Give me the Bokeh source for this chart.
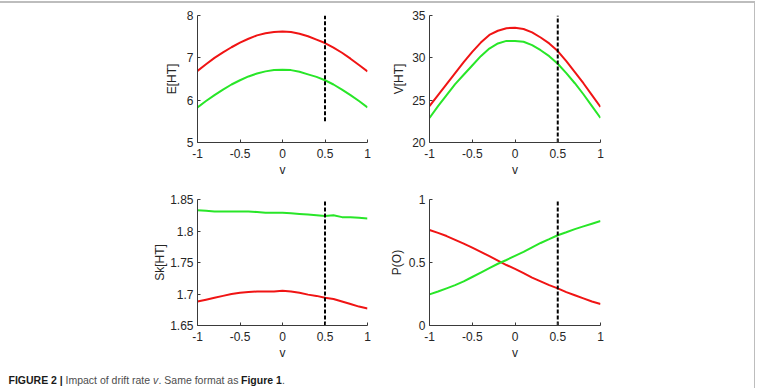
from bokeh.plotting import figure
from bokeh.layouts import row, column
from bokeh.models import Range1d, FixedTicker, Spacer
from bokeh.core.properties import value
from bokeh.embed import file_html
from bokeh.resources import INLINE

# drift rate grid
drift = [-1.0, -0.9, -0.8, -0.7, -0.6, -0.5, -0.4, -0.3, -0.2, -0.1, 0.0,
         0.1, 0.2, 0.3, 0.4, 0.5, 0.6, 0.7, 0.8, 0.9, 1.0]
drift_ref = 0.5

# E[HT]
e_red = [6.69, 6.85, 7.00, 7.13, 7.25, 7.36, 7.45, 7.53, 7.58, 7.61, 7.62,
         7.61, 7.57, 7.51, 7.43, 7.35, 7.24, 7.12, 6.98, 6.83, 6.68]
e_green = [5.83, 5.98, 6.12, 6.25, 6.37, 6.47, 6.56, 6.63, 6.68, 6.71, 6.72,
           6.71, 6.67, 6.61, 6.55, 6.47, 6.37, 6.25, 6.12, 5.98, 5.83]

# V[HT]
v_red = [24.3, 25.6, 26.9, 28.2, 29.5, 30.7, 31.8, 32.7, 33.2, 33.5, 33.55,
         33.4, 33.0, 32.4, 31.7, 30.8, 29.6, 28.3, 27.0, 25.6, 24.2]
v_green = [22.9, 24.3, 25.6, 26.9, 28.0, 29.1, 30.2, 31.1, 31.7, 32.0, 32.0,
           31.9, 31.5, 30.9, 30.2, 29.3, 28.2, 27.0, 25.7, 24.3, 22.9]

# Sk[HT]
sk_red = [1.688, 1.691, 1.694, 1.697, 1.700, 1.702, 1.703, 1.704, 1.704, 1.704, 1.705,
          1.704, 1.702, 1.699, 1.697, 1.694, 1.692, 1.688, 1.684, 1.680, 1.677]
sk_green = [1.833, 1.832, 1.831, 1.831, 1.831, 1.831, 1.831, 1.830, 1.829, 1.829, 1.829,
            1.828, 1.827, 1.826, 1.825, 1.824, 1.825, 1.822, 1.822, 1.821, 1.820]

# P(O)
p_red = [0.758, 0.735, 0.710, 0.680, 0.650, 0.618, 0.585, 0.550, 0.515, 0.480, 0.450,
         0.415, 0.380, 0.350, 0.320, 0.295, 0.265, 0.240, 0.215, 0.190, 0.171]
p_green = [0.247, 0.270, 0.295, 0.320, 0.350, 0.385, 0.420, 0.455, 0.490, 0.520, 0.553,
           0.585, 0.620, 0.655, 0.685, 0.716, 0.740, 0.765, 0.787, 0.808, 0.829]

x_ticks = [-1, -0.5, 0, 0.5, 1]
x_tick_labels = ["-1", "-0.5", "0", "0.5", "1"]

e_ticks = [5, 6, 7, 8]
e_tick_labels = ["5", "6", "7", "8"]
v_ticks = [20, 25, 30, 35]
v_tick_labels = ["20", "25", "30", "35"]
sk_ticks = [1.65, 1.7, 1.75, 1.8, 1.85]
sk_tick_labels = ["1.65", "1.7", "1.75", "1.8", "1.85"]
p_ticks = [0, 0.5, 1]
p_tick_labels = ["0", "0.5", "1"]

RED = "#f01414"
GREEN = "#28e628"
FONT = "Liberation Sans"
AXIS_COLOR = "#3a3a3a"
TEXT_COLOR = "#262626"
TICK_SIZE = "12px"
LABEL_SIZE = "12px"


def panel(width, height, borders, yr, yticks, ylabels, ylabel, red, green,
          dash_from, ylabel_standoff):
    left, right, top, bottom = borders
    p = figure(width=width, height=height, output_backend="svg",
               toolbar_location=None, x_range=Range1d(-1, 1),
               y_range=Range1d(*yr), min_border_left=left,
               min_border_right=right, min_border_top=top,
               min_border_bottom=bottom)
    p.outline_line_color = None
    p.grid.visible = False
    p.background_fill_color = "white"
    p.border_fill_color = "white"

    p.line(drift, red, line_color=RED, line_width=2)
    p.line(drift, green, line_color=GREEN, line_width=2)
    p.segment(x0=[drift_ref], y0=[dash_from], x1=[drift_ref], y1=[yr[1]],
              line_color="black", line_width=2, line_dash="4 2")

    xa = p.xaxis[0]
    xa.ticker = FixedTicker(ticks=x_ticks)
    xa.major_label_overrides = {t: l for t, l in zip(x_ticks, x_tick_labels)}
    xa.axis_label = "v"
    xa.major_label_standoff = 6
    xa.axis_label_standoff = 2

    ya = p.yaxis[0]
    ya.ticker = FixedTicker(ticks=yticks)
    ya.major_label_overrides = {t: l for t, l in zip(yticks, ylabels)}
    ya.axis_label = ylabel
    ya.major_label_standoff = 4
    ya.axis_label_standoff = ylabel_standoff

    for ax in (xa, ya):
        ax.axis_line_color = AXIS_COLOR
        ax.major_tick_line_color = AXIS_COLOR
        ax.major_tick_in = 3
        ax.major_tick_out = 0
        ax.minor_tick_line_color = None
        ax.major_label_text_font = FONT
        ax.major_label_text_font_size = TICK_SIZE
        ax.major_label_text_color = TEXT_COLOR
        ax.axis_label_text_font = FONT
        ax.axis_label_text_font_size = LABEL_SIZE
        ax.axis_label_text_font_style = "normal"
        ax.axis_label_text_color = TEXT_COLOR
    return p


p_e = panel(372, 177, (197, 5, 12, 38), (5, 8), e_ticks, e_tick_labels,
            "E[HT]", e_red, e_green, 5.5, 5)
p_v = panel(382, 177, (57, 154, 12, 38), (20, 35), v_ticks, v_tick_labels,
            "V[HT]", v_red, v_green, 20, 3)
p_sk = panel(372, 182, (197, 5, 19, 35), (1.65, 1.85), sk_ticks, sk_tick_labels,
             "Sk[HT]", sk_red, sk_green, 1.65, 0)
p_p = panel(382, 182, (57, 154, 19, 35), (0, 1), p_ticks, p_tick_labels,
            "P(O)", p_red, p_green, 0, 2)

# caption strip
cap = figure(width=754, height=26, output_backend="svg", toolbar_location=None,
             x_range=Range1d(0, 754), y_range=Range1d(26, 0),
             min_border=0, min_border_left=0, min_border_right=0,
             min_border_top=0, min_border_bottom=0)
cap.axis.visible = False
cap.grid.visible = False
cap.outline_line_color = None
segments = [
    (8, "FIGURE 2 |", "bold", "#1a1a1a"),
    (65, "Impact of drift rate", "normal", "#4d4d4d"),
    (152.5, "v", "italic", "#4d4d4d"),
    (158, ". Same format as", "normal", "#4d4d4d"),
    (240.5, "Figure 1", "bold", "#1a1a1a"),
    (281.5, ".", "normal", "#4d4d4d"),
]
for sx, txt, style, col in segments:
    cap.text(x=[sx], y=[17], text=[txt], text_font=value(FONT),
             text_font_size="10.5px", text_font_style=style, text_color=col,
             text_baseline="middle", text_align="left")

gray = "#bdbdbd"
content = column(row(p_e, p_v), row(p_sk, p_p), cap, spacing=0)
body = row(content, Spacer(width=1, height=385, styles={"background-color": gray}),
           Spacer(width=5, height=385), spacing=0)
layout = column(Spacer(width=760, height=1),
                Spacer(width=755, height=2, styles={"background-color": gray}),
                body, spacing=0)

open("out.html", "w").write(file_html(layout, INLINE))
